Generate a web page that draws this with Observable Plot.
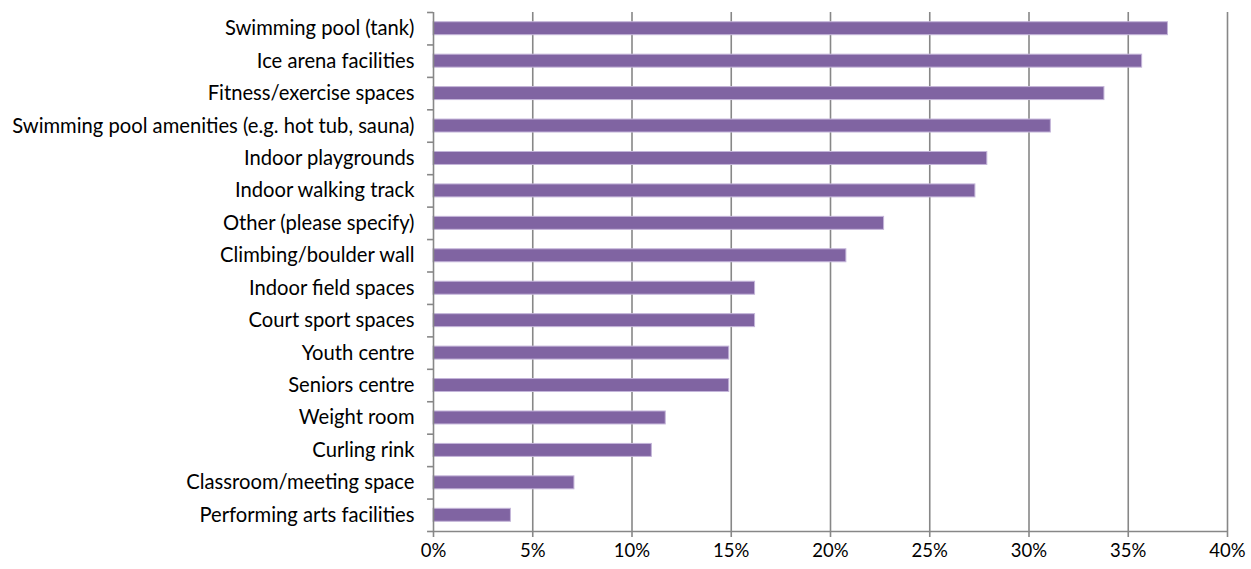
<!DOCTYPE html>
<html>
<head>
<meta charset="utf-8">
<script src="https://cdn.jsdelivr.net/npm/d3@7"></script>
<script src="https://cdn.jsdelivr.net/npm/@observablehq/plot@0.6"></script>
<style>
  html, body { margin: 0; padding: 0; background: #fff; }
  #chart svg { display: block; }
</style>
</head>
<body>
<div id="chart"></div>
<script>
const categories = [
  "Swimming pool (tank)",
  "Ice arena facilities",
  "Fitness/exercise spaces",
  "Swimming pool amenities (e.g. hot tub, sauna)",
  "Indoor playgrounds",
  "Indoor walking track",
  "Other (please specify)",
  "Climbing/boulder wall",
  "Indoor field spaces",
  "Court sport spaces",
  "Youth centre",
  "Seniors centre",
  "Weight room",
  "Curling rink",
  "Classroom/meeting space",
  "Performing arts facilities"
];
const values = [37.0, 35.7, 33.8, 31.1, 27.9, 27.3, 22.7, 20.8, 16.2, 16.2, 14.9, 14.9, 11.7, 11.0, 7.1, 3.9];
const xTicks = [0, 5, 10, 15, 20, 25, 30, 35, 40];

const data = categories.map((c, i) => ({category: c, value: values[i]}));

const W = 1251, H = 569;
const mTop = 12, mBottom = 38, mLeft = 433, mRight = 24;
const step = (H - mTop - mBottom) / categories.length;
const grey = "#878787";

const chart = Plot.plot({
  width: W,
  height: H,
  marginTop: mTop,
  marginBottom: mBottom,
  marginLeft: mLeft,
  marginRight: mRight,
  style: {fontFamily: "Lato, 'Liberation Sans', sans-serif", fontSize: "20px", color: "#000", background: "#fff"},
  x: {domain: [0, 40]},
  y: {domain: categories, paddingInner: 0.6, paddingOuter: 0.3, align: 0.5, round: false},
  marks: [
    Plot.gridX(xTicks.filter(t => t > 0), {stroke: grey, strokeOpacity: 1, strokeWidth: 1.6}),
    Plot.barX(data, {x: "value", y: "category", fill: "#8064A2", stroke: "#c4b5d9", strokeWidth: 1}),
    // y axis line
    Plot.ruleX([0], {stroke: grey, strokeWidth: 1.6}),
    // x axis line
    Plot.ruleY([categories[categories.length - 1]], {y: d => d, dy: step / 2, x1: 0, x2: 40, stroke: grey, strokeWidth: 1.6}),
    // category boundary ticks on y axis
    Plot.ruleY(categories, {y: d => d, dy: -step / 2, x1: -0.3, x2: 0, stroke: grey, strokeWidth: 1.6, clip: false}),
    Plot.ruleY([categories[categories.length - 1]], {y: d => d, dy: step / 2, x1: -0.3, x2: 0, stroke: grey, strokeWidth: 1.6, clip: false}),
    Plot.axisY({tickSize: 0, tickPadding: 19, label: null, fontSize: 20.2}),
    Plot.axisX({ticks: xTicks, tickSize: 6, tickPadding: 6, tickFormat: d => d + "%", label: null, stroke: grey, strokeWidth: 1.6, fontSize: 18.5})
  ]
});
document.getElementById("chart").appendChild(chart);
</script>
</body>
</html>
